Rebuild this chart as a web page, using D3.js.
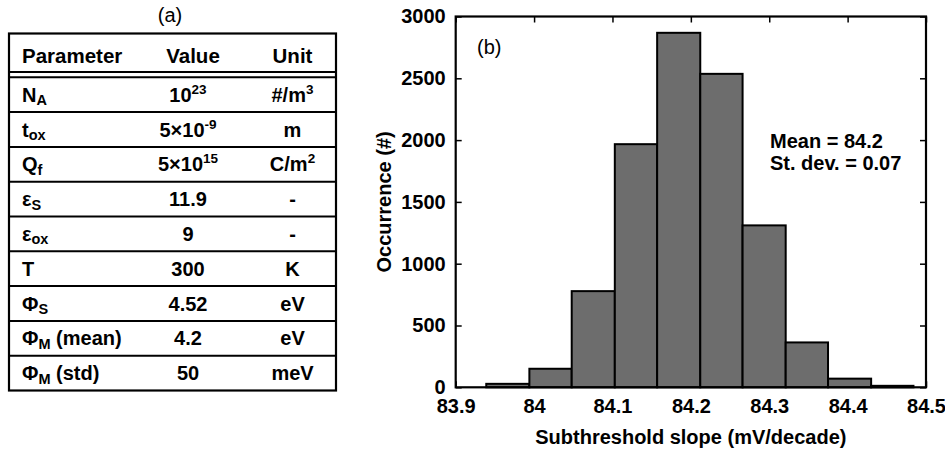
<!DOCTYPE html>
<html>
<head>
<meta charset="utf-8">
<script src="https://cdn.jsdelivr.net/npm/d3@7"></script>
<style>
  body { margin: 0; background: #fff; }
  svg text { font-family: "Liberation Sans", Arial, sans-serif; fill: #000; }
</style>
</head>
<body>
<div id="chart"></div>
<script>
// table (a)
var paramNames = ["N", "t", "Q", "\u03b5", "\u03b5", "T", "\u03a6", "\u03a6", "\u03a6"];
var paramSubs = ["A", "ox", "f", "S", "ox", "", "S", "M", "M"];
var paramSuffix = ["", "", "", "", "", "", "", " (mean)", " (std)"];
var valueBase = ["10", "5\u00d710", "5\u00d710", "11.9", "9", "300", "4.52", "4.2", "50"];
var valueSup = ["23", "-9", "15", "", "", "", "", "", ""];
var unitBase = ["#/m", "m", "C/m", "-", "-", "K", "eV", "eV", "meV"];
var unitSup = ["3", "", "2", "", "", "", "", "", ""];

// histogram (b)
var binEdges = [83.939, 83.994, 84.048, 84.103, 84.157, 84.212, 84.266, 84.321, 84.375, 84.430, 84.484];
var counts = [28, 150, 778, 1967, 2868, 2536, 1310, 363, 70, 12];
var xTicks = [83.9, 84, 84.1, 84.2, 84.3, 84.4, 84.5];
var yTicks = [0, 500, 1000, 1500, 2000, 2500, 3000];

var width = 945, height = 451;

var svg = d3.select("#chart").append("svg")
  .attr("width", width)
  .attr("height", height);

// ---------- table ----------
var tbl = svg.append("g");
var tLeft = 9, tRight = 336, tTop = 33.5, headBottom = 72, rowTop = 77.3, rowH = 34.8;

tbl.append("text")
  .attr("x", 170).attr("y", 22)
  .attr("text-anchor", "middle")
  .style("font-size", "20px")
  .text("(a)");

var nRows = paramNames.length;
var tBottom = rowTop + nRows * rowH;

tbl.append("rect")
  .attr("x", tLeft).attr("y", tTop)
  .attr("width", tRight - tLeft).attr("height", tBottom - tTop)
  .attr("fill", "none").attr("stroke", "#000").attr("stroke-width", 2.2);

// double line under header
tbl.append("line").attr("x1", tLeft).attr("x2", tRight).attr("y1", headBottom).attr("y2", headBottom)
  .attr("stroke", "#000").attr("stroke-width", 2);
tbl.selectAll(".rowline")
  .data(d3.range(nRows))
  .enter().append("line")
  .attr("class", "rowline")
  .attr("x1", tLeft).attr("x2", tRight)
  .attr("y1", function (i) { return rowTop + i * rowH; })
  .attr("y2", function (i) { return rowTop + i * rowH; })
  .attr("stroke", "#000").attr("stroke-width", 2);

var headY = 63;
[["Parameter", 22, "start"], ["Value", 193, "middle"], ["Unit", 292.5, "middle"]].forEach(function (h) {
  tbl.append("text")
    .attr("x", h[1]).attr("y", headY)
    .attr("text-anchor", h[2])
    .style("font-size", "20.5px").style("font-weight", "bold")
    .text(h[0]);
});

var rows = tbl.selectAll(".row")
  .data(d3.range(nRows))
  .enter().append("g")
  .attr("class", "row")
  .attr("transform", function (i) { return "translate(0," + (rowTop + i * rowH + rowH / 2 + 7) + ")"; })
  .style("font-weight", "bold")
  .style("font-size", "20px");

// parameter column
rows.append("text")
  .attr("x", 22)
  .each(function (i) {
    var t = d3.select(this);
    t.append("tspan").text(paramNames[i]);
    if (paramSubs[i]) {
      t.append("tspan").attr("dy", 3.5).style("font-size", "14.5px").text(paramSubs[i]);
      if (paramSuffix[i]) t.append("tspan").attr("dy", -3.5).text(paramSuffix[i]);
    }
  });

// value column
rows.append("text")
  .attr("x", 188)
  .attr("text-anchor", "middle")
  .each(function (i) {
    var t = d3.select(this);
    t.append("tspan").text(valueBase[i]);
    if (valueSup[i]) t.append("tspan").attr("dy", -8).style("font-size", "13.5px").text(valueSup[i]);
  });

// unit column
rows.append("text")
  .attr("x", 292.5)
  .attr("text-anchor", "middle")
  .each(function (i) {
    var t = d3.select(this);
    t.append("tspan").text(unitBase[i]);
    if (unitSup[i]) t.append("tspan").attr("dy", -8).style("font-size", "13.5px").text(unitSup[i]);
  });

// ---------- histogram ----------
var x = d3.scaleLinear().domain([83.9, 84.5]).range([455.7, 926]);
var y = d3.scaleLinear().domain([0, 3000]).range([387.3, 16.5]);

var axisFont = function (g) {
  g.select(".domain").remove();
  g.selectAll(".tick line").attr("stroke", "#000").attr("stroke-width", 1.5);
  g.selectAll(".tick text")
    .style("font-family", "'Liberation Sans', Arial, sans-serif")
    .style("font-size", "20px").style("font-weight", "bold").attr("fill", "#000");
};

svg.append("g")
  .attr("transform", "translate(0," + y(0) + ")")
  .call(d3.axisBottom(x).tickValues(xTicks).tickFormat(d3.format("")).tickSize(-6).tickSizeOuter(0).tickPadding(12))
  .call(axisFont);
svg.append("g")
  .attr("transform", "translate(0," + y(3000) + ")")
  .call(d3.axisTop(x).tickValues(xTicks).tickFormat("").tickSize(-6).tickSizeOuter(0))
  .call(axisFont);
svg.append("g")
  .attr("transform", "translate(" + x(83.9) + ",0)")
  .call(d3.axisLeft(y).tickValues(yTicks).tickFormat(d3.format("d")).tickSize(-6).tickSizeOuter(0).tickPadding(10))
  .call(axisFont);
svg.append("g")
  .attr("transform", "translate(" + x(84.5) + ",0)")
  .call(d3.axisRight(y).tickValues(yTicks).tickFormat("").tickSize(-6).tickSizeOuter(0))
  .call(axisFont);

svg.selectAll(".bar")
  .data(counts)
  .enter().append("rect")
  .attr("class", "bar")
  .attr("x", function (d, i) { return x(binEdges[i]); })
  .attr("width", function (d, i) { return x(binEdges[i + 1]) - x(binEdges[i]); })
  .attr("y", function (d) { return y(d); })
  .attr("height", function (d) { return y(0) - y(d); })
  .attr("fill", "#6d6d6d")
  .attr("stroke", "#000")
  .attr("stroke-width", 2);

// frame
svg.append("rect")
  .attr("x", x(83.9)).attr("y", y(3000))
  .attr("width", x(84.5) - x(83.9)).attr("height", y(0) - y(3000))
  .attr("fill", "none").attr("stroke", "#000").attr("stroke-width", 2.2);

svg.append("text")
  .attr("x", 477).attr("y", 54)
  .style("font-size", "20px")
  .text("(b)");

svg.append("text")
  .attr("x", 770).attr("y", 148)
  .style("font-size", "20px").style("font-weight", "bold")
  .text("Mean = 84.2");
svg.append("text")
  .attr("x", 770).attr("y", 170)
  .style("font-size", "20px").style("font-weight", "bold")
  .text("St. dev. = 0.07");

svg.append("text")
  .attr("x", (x(83.9) + x(84.5)) / 2).attr("y", 444)
  .attr("text-anchor", "middle")
  .style("font-size", "20px").style("font-weight", "bold")
  .text("Subthreshold slope (mV/decade)");

svg.append("text")
  .attr("transform", "translate(391," + (y(0) + y(3000)) / 2 + ") rotate(-90)")
  .attr("text-anchor", "middle")
  .style("font-size", "20px").style("font-weight", "bold")
  .text("Occurrence (#)");
</script>
</body>
</html>
